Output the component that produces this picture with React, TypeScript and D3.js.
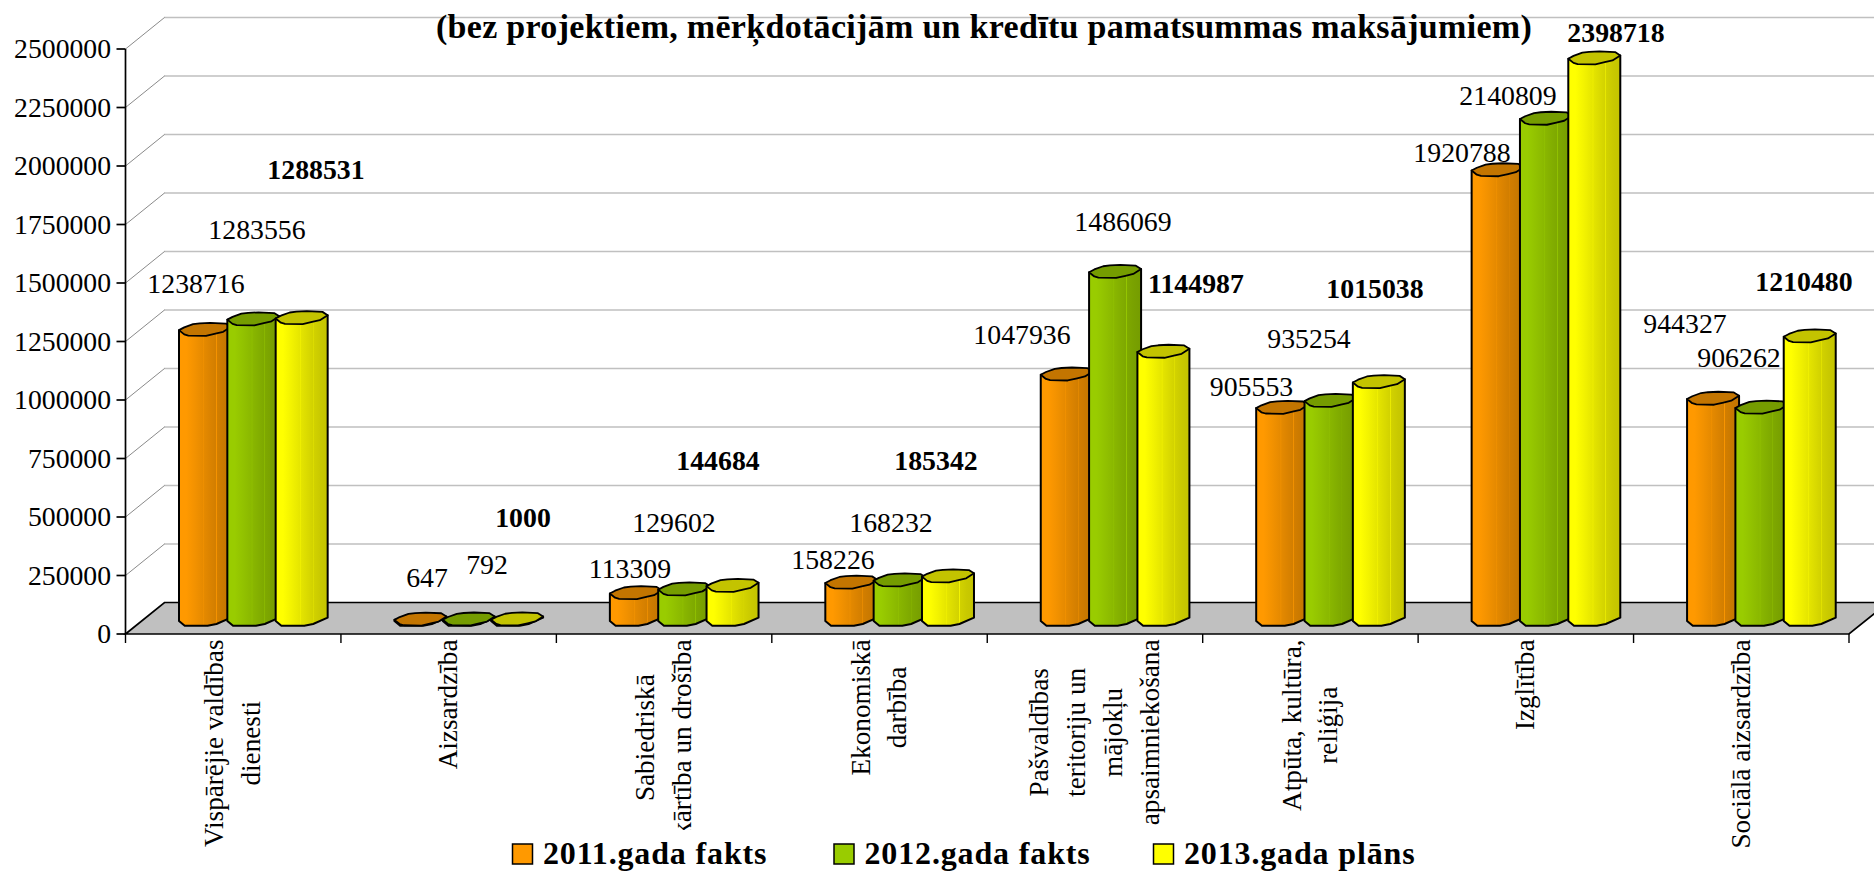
import React from "react";
import * as d3 from "d3";

const W = 1874, H = 871;
const FONT = "'Liberation Serif', 'Times New Roman', serif";

const categories = [
  ["Vispārējie valdības", "dienesti"],
  ["Aizsardzība"],
  ["Sabiedriskā", "kārtība un drošība"],
  ["Ekonomiskā", "darbība"],
  ["Pašvaldības", "teritoriju un", "mājokļu", "apsaimniekošana"],
  ["Atpūta, kultūra,", "reliģija"],
  ["Izglītība"],
  ["Sociālā aizsardzība"],
];
const seriesNames = ["2011.gada fakts", "2012.gada fakts", "2013.gada plāns"];
const values2011 = [1238716, 647, 113309, 158226, 1047936, 905553, 1920788, 944327];
const values2012 = [1283556, 792, 129602, 168232, 1486069, 935254, 2140809, 906262];
const values2013 = [1288531, 1000, 144684, 185342, 1144987, 1015038, 2398718, 1210480];
const yTicks = d3.range(0, 2500001, 250000);
const title = "(bez projektiem, mērķdotācijām un kredītu pamatsummas maksājumiem)";

const seriesValues = [values2011, values2012, values2013];
const seriesColors = ["#ff9900", "#99cc00", "#ffff00"];
const seriesBold = [false, false, true];

// Hand-placed data label anchors of the original (centre x, baseline y)
const labelPos2011 = [[196, 293], [427, 587], [630, 578], [833, 569], [1022, 344], [1251.5, 395.5], [1462, 162], [1685, 333]];
const labelPos2012 = [[257, 239], [487, 574], [674, 532], [891, 532], [1123, 231], [1309, 348], [1508, 104.5], [1739, 367]];
const labelPos2013 = [[316, 179], [523, 527], [718, 470], [936, 470], [1196, 293], [1375, 298], [1616, 41.7], [1804, 291]];
const labelPos = [labelPos2011, labelPos2012, labelPos2013];

const legendLayout = [
  { sq: 512.5, tx: 543 },
  { sq: 834, tx: 864.5 },
  { sq: 1153.5, tx: 1184 },
];

// Cylinder outline, in (fraction of width, px) from the front-top baseline
const capShape: [number, number][] = [
  [0, -5.7], [0.1, -1.5], [0.18, -0.3], [0.52, 0], [0.7, -2.2], [0.85, -4], [1, -9],
  [0.9, -12.3], [0.6, -13], [0.4, -12.5], [0.27, -11.7], [0.1, -8.5],
];
const bottomShape: [number, number][] = [
  [0, -4.7], [0.11, 0], [0.55, 0], [0.72, -1.7], [1, -8],
];

const PLOT_L = 125.5, PLOT_R = 1849, Y0 = 634, Y1 = 49, DX = 39, DY = 31.5;
const BAR_W = 52, BAR_BASE = 625.7;

const measure = (s: string, size: number) => {
  const c = document.createElement("canvas").getContext("2d")!;
  c.font = `${size}px 'Liberation Serif'`;
  return c.measureText(s).width;
};

export default function App() {
  const y = d3.scaleLinear().domain([0, 2500000]).range([Y0, Y1]);
  const x = d3.scaleBand<number>().domain(d3.range(categories.length)).range([PLOT_L, PLOT_R]);
  const inner = d3.scaleBand<number>().domain([0, 1, 2]).range([53.5, 53.5 + 145]);
  const line = d3.line();
  const ptLine = (pts: [number, number][]) => line(pts) as string;

  const bars: React.ReactNode[] = [];
  categories.forEach((_, c) => {
    seriesValues.forEach((vals, s) => {
      const left = (x(c) as number) + (inner(s) as number);
      const top = Math.min(y(vals[c]) - 8.3, BAR_BASE);
      const capPts = capShape.map(([f, d]) => [left + f * BAR_W, top + d] as [number, number]);
      const bottomPts = bottomShape.map(([f, d]) => [left + f * BAR_W, BAR_BASE + d] as [number, number]);
      const body = ptLine([[left, top - 5.7], ...bottomPts, [left + BAR_W, top - 9]]);
      bars.push(
        <g key={`${c}-${s}`}>
          <path d={body + "Z"} fill={`url(#grad${s})`} stroke="#000" strokeWidth={2} strokeLinejoin="round" />
          <path d={ptLine(capPts) + "Z"} fill={d3.rgb(seriesColors[s]).darker(0.75).formatHex()} stroke="#000" strokeWidth={1.8} strokeLinejoin="round" />
        </g>
      );
    });
  });

  const gradStops = (color: string) => {
    const dark = d3.rgb(color).darker(0.75).formatHex();
    const mix = d3.interpolateRgb(color, dark);
    const bands = [[0, 0], [0.14, 0], [0.3, 0.2], [0.46, 0.42], [0.475, 0.25], [0.49, 0.45], [0.6, 0.6], [0.71, 0.75], [0.72, 0.1], [0.73, 0.75], [0.86, 0.9], [1, 1]];
    return bands.map(([o, t], i) => <stop key={i} offset={o} stopColor={mix(t)} />);
  };

  const tickXs = d3.range(categories.length + 1).map((i) => PLOT_L + i * x.step());

  return (
    <svg width={W} height={H} style={{ position: "absolute", left: 0, top: 0, display: "block", background: "#fff" }} fontFamily={FONT}>
      <defs>
        {seriesColors.map((col, s) => (
          <linearGradient key={s} id={`grad${s}`} x1="0" x2="1" y1="0" y2="0">{gradStops(col)}</linearGradient>
        ))}
      </defs>

      {yTicks.filter((t) => t > 0).map((t) => (
        <g key={t} fill="none">
          <line x1={PLOT_L + DX} x2={PLOT_R + DX} y1={y(t) - DY} y2={y(t) - DY} stroke="#808080" strokeWidth={1.3} strokeDasharray="1 1" />
          <line x1={PLOT_L} x2={PLOT_L + DX} y1={y(t)} y2={y(t) - DY} stroke="#8a8a8a" strokeWidth={1} />
        </g>
      ))}

      <path d={ptLine([[PLOT_L, Y0], [PLOT_L + DX, Y0 - DY], [PLOT_R + DX, Y0 - DY], [PLOT_R, Y0]]) + "Z"} fill="#c0c0c0" stroke="#000" strokeWidth={1.7} />

      <line x1={PLOT_L} x2={PLOT_L} y1={Y1} y2={Y0} stroke="#000" strokeWidth={1.7} />
      {yTicks.map((t) => (
        <g key={t}>
          <line x1={PLOT_L - 9} x2={PLOT_L} y1={y(t)} y2={y(t)} stroke="#000" strokeWidth={1.7} />
          <text x={111} y={y(t) + 9} textAnchor="end" fontSize={27.7} fill="#000">{t}</text>
        </g>
      ))}
      {tickXs.map((tx, i) => (
        <line key={i} x1={tx} x2={tx} y1={Y0} y2={Y0 + 9} stroke="#000" strokeWidth={1.4} />
      ))}

      {bars}

      {categories.map((lines, c) => {
        const size = 27.2;
        const lead = 36.8;
        const cx = (x(c) as number) + x.step() / 2;
        const maxLen = Math.max(...lines.map((l) => measure(l, size)));
        const cy = 639.5 + maxLen / 2;
        return lines.map((l, i) => {
          const bx = cx - ((lines.length - 1) * lead) / 2 + i * lead + 8.5;
          return (
            <text key={`${c}-${i}`} transform={`translate(${bx},${cy}) rotate(-90)`} textAnchor="middle" fontSize={size} fill="#000">{l}</text>
          );
        });
      })}

      {seriesValues.map((vals, s) =>
        vals.map((v, c) => (
          <text key={`${s}-${c}`} x={labelPos[s][c][0]} y={labelPos[s][c][1]} textAnchor="middle" fontSize={27.8} fontWeight={seriesBold[s] ? 700 : 400} fill="#000">{v}</text>
        ))
      )}

      <text x={984} y={38} textAnchor="middle" fontSize={34} fontWeight={700} letterSpacing={0.3} fill="#000">{title}</text>

      <rect x={505} y={830} width={915} height={41} fill="#fff" />
      {seriesNames.map((n, i) => (
        <g key={n}>
          <rect x={legendLayout[i].sq} y={844} width={20} height={20} fill={seriesColors[i]} stroke="#000" strokeWidth={1.5} />
          <text x={legendLayout[i].tx} y={863.5} fontSize={32} fontWeight={700} letterSpacing={0.85} fill="#000">{n}</text>
        </g>
      ))}
    </svg>
  );
}
